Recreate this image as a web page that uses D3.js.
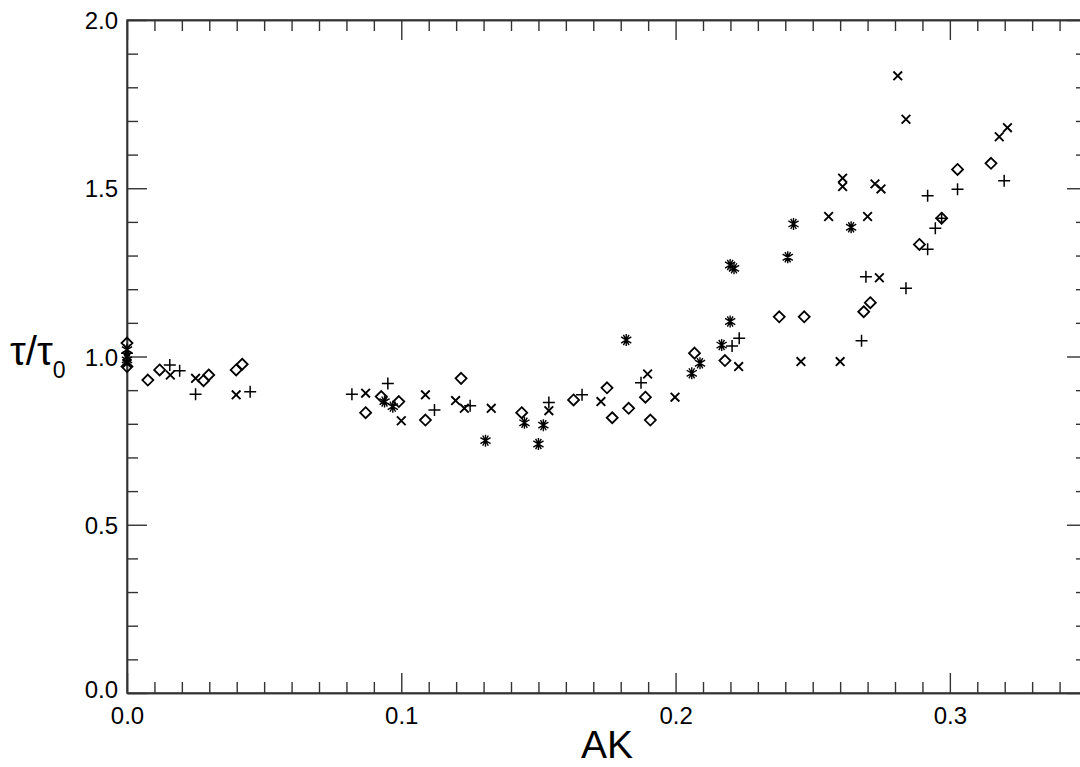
<!DOCTYPE html>
<html>
<head>
<meta charset="utf-8">
<script src="https://cdn.jsdelivr.net/npm/d3@7"></script>
<style>
  body { margin: 0; background: #fff; }
  text { font-family: "Liberation Sans", Arial, sans-serif; fill: #000; }
</style>
</head>
<body>
<div id="chart"></div>
<script>
const width = 1080
const height = 767
const margin = { top: 20, left: 127, right: -7, bottom: 74 }

// data (AK, tau/tau0) for each marker series
const diamondAK  = [0, 0, 0.0076, 0.0119, 0.0279, 0.0298, 0.0398, 0.042, 0.087, 0.0927, 0.0991, 0.1088, 0.1218, 0.1439, 0.1628, 0.175, 0.1769, 0.1829, 0.189, 0.1908, 0.2069, 0.218, 0.2378, 0.2469, 0.2686, 0.271, 0.2889, 0.297, 0.3028, 0.315]
const diamondTau = [1.04, 0.97, 0.930, 0.960, 0.928, 0.945, 0.960, 0.977, 0.833, 0.881, 0.866, 0.811, 0.935, 0.833, 0.871, 0.907, 0.818, 0.846, 0.879, 0.811, 1.010, 0.988, 1.118, 1.118, 1.133, 1.160, 1.333, 1.411, 1.556, 1.574]

const plusAK  = [0, 0.0156, 0.0192, 0.025, 0.0449, 0.082, 0.0951, 0.1121, 0.1251, 0.1538, 0.1659, 0.1874, 0.2206, 0.2232, 0.2678, 0.2694, 0.284, 0.2919, 0.2947, 0.297, 0.2919, 0.3028, 0.3198]
const plusTau = [1.01, 0.975, 0.958, 0.888, 0.895, 0.888, 0.920, 0.841, 0.854, 0.863, 0.886, 0.922, 1.031, 1.054, 1.047, 1.237, 1.203, 1.319, 1.381, 1.411, 1.478, 1.497, 1.522]

const crossAK  = [0, 0, 0.0158, 0.025, 0.0398, 0.087, 0.100, 0.1088, 0.1198, 0.123, 0.1328, 0.1538, 0.1728, 0.1898, 0.1998, 0.223, 0.2457, 0.260, 0.2558, 0.2609, 0.2609, 0.2727, 0.2749, 0.270, 0.2743, 0.281, 0.284, 0.318, 0.321]
const crossTau = [1.00, 0.98, 0.945, 0.935, 0.886, 0.891, 0.809, 0.886, 0.869, 0.846, 0.846, 0.839, 0.866, 0.948, 0.879, 0.970, 0.985, 0.985, 1.416, 1.530, 1.505, 1.513, 1.498, 1.416, 1.234, 1.834, 1.705, 1.653, 1.680]

const starAK  = [0, 0, 0.0939, 0.0969, 0.1307, 0.1449, 0.150, 0.1518, 0.182, 0.2059, 0.2089, 0.2168, 0.2199, 0.2199, 0.2213, 0.2409, 0.243, 0.264]
const starTau = [1.02, 0.99, 0.866, 0.851, 0.750, 0.803, 0.740, 0.796, 1.049, 0.950, 0.980, 1.034, 1.104, 1.272, 1.262, 1.295, 1.394, 1.384]

const xMajor = [0, 0.1, 0.2, 0.3]
const xMajorLabels = ["0.0", "0.1", "0.2", "0.3"]
const yMajor = [0, 0.5, 1.0, 1.5, 2.0]
const yMajorLabels = ["0.0", "0.5", "1.0", "1.5", "2.0"]

const svg = d3.select("#chart").append("svg").attr("width", width).attr("height", height)

const innerW = width - margin.left - margin.right
const innerH = height - margin.top - margin.bottom

const x = d3.scaleLinear().domain([0, 0.35]).range([margin.left, margin.left + innerW])
const y = d3.scaleLinear().domain([0, 2]).range([margin.top + innerH, margin.top])

const xMinor = d3.range(1, 35).map(i => i / 100).filter(v => Math.round(v * 100) % 10 !== 0)
const yMinor = d3.range(1, 20).map(i => i / 10).filter(v => Math.round(v * 10) % 5 !== 0)

const axisColor = "#333"

function styleAxis(g) {
    g.select(".domain").attr("stroke", axisColor).attr("stroke-width", 1.4)
    g.selectAll(".tick line").attr("stroke", axisColor).attr("stroke-width", 1.4)
}

// frame
svg.append("rect")
    .attr("x", x(0)).attr("y", y(2))
    .attr("width", x(0.35) - x(0)).attr("height", y(0) - y(2))
    .attr("fill", "none").attr("stroke", axisColor).attr("stroke-width", 1.4)

// bottom
svg.append("g").attr("transform", `translate(0,${y(0)})`)
    .call(d3.axisBottom(x).tickValues(xMinor).tickSize(-11).tickFormat("").tickSizeOuter(0))
    .call(styleAxis)
const xAxisG = svg.append("g").attr("transform", `translate(0,${y(0)})`)
    .call(d3.axisBottom(x).tickValues(xMajor).tickSize(-20).tickSizeOuter(0).tickPadding(14)
        .tickFormat((d, i) => xMajorLabels[i]))
    .call(styleAxis)
xAxisG.selectAll(".tick text").attr("font-size", 24).attr("font-family", "Liberation Sans, Arial, sans-serif").attr("fill", "#000")

// top
svg.append("g").attr("transform", `translate(0,${y(2)})`)
    .call(d3.axisTop(x).tickValues(xMinor).tickSize(-11).tickFormat("").tickSizeOuter(0))
    .call(styleAxis)
svg.append("g").attr("transform", `translate(0,${y(2)})`)
    .call(d3.axisTop(x).tickValues(xMajor).tickSize(-20).tickFormat("").tickSizeOuter(0))
    .call(styleAxis)

// left
svg.append("g").attr("transform", `translate(${x(0)},0)`)
    .call(d3.axisLeft(y).tickValues(yMinor).tickSize(-11).tickFormat("").tickSizeOuter(0))
    .call(styleAxis)
const yAxisG = svg.append("g").attr("transform", `translate(${x(0)},0)`)
    .call(d3.axisLeft(y).tickValues(yMajor).tickSize(-20).tickSizeOuter(0).tickPadding(9)
        .tickFormat((d, i) => yMajorLabels[i]))
    .call(styleAxis)
yAxisG.selectAll(".tick text").attr("font-size", 24).attr("font-family", "Liberation Sans, Arial, sans-serif").attr("fill", "#000")
    .attr("dy", "0.36em")
yAxisG.selectAll(".tick").filter(d => d === 0).select("text").attr("dy", "0.2em")

// right
svg.append("g").attr("transform", `translate(${x(0.35)},0)`)
    .call(d3.axisRight(y).tickValues(yMinor).tickSize(-11).tickFormat("").tickSizeOuter(0))
    .call(styleAxis)
svg.append("g").attr("transform", `translate(${x(0.35)},0)`)
    .call(d3.axisRight(y).tickValues(yMajor).tickSize(-20).tickFormat("").tickSizeOuter(0))
    .call(styleAxis)

// axis titles
svg.append("text")
    .attr("x", x(0.175)).attr("y", 758)
    .attr("text-anchor", "middle").attr("font-size", 39)
    .text("AK")

const yTitle = svg.append("text").attr("x", 10).attr("y", 365).attr("font-size", 40)
yTitle.append("tspan").text("τ/τ")
yTitle.append("tspan").attr("font-size", 23).attr("dy", 13).text("0")

// marker shapes
const diamondShape = { draw(c, s) { const r = Math.sqrt(s) * 0.6; c.moveTo(0, -r); c.lineTo(r, 0); c.lineTo(0, r); c.lineTo(-r, 0); c.closePath() } }
const plusShape = { draw(c, s) { const r = Math.sqrt(s) * 0.6; c.moveTo(-r, 0); c.lineTo(r, 0); c.moveTo(0, -r); c.lineTo(0, r) } }
const crossShape = { draw(c, s) { const r = Math.sqrt(s) * 0.6; c.moveTo(-r, -r); c.lineTo(r, r); c.moveTo(-r, r); c.lineTo(r, -r) } }
const starShape = { draw(c, s) {
    const r = Math.sqrt(s) * 0.6, d = r * 0.85
    c.moveTo(0, -r); c.lineTo(0, r)
    c.moveTo(-d, -d * 0.6); c.lineTo(d, d * 0.6)
    c.moveTo(-d, d * 0.6); c.lineTo(d, -d * 0.6)
    c.moveTo(-d * 0.55, -d); c.lineTo(d * 0.55, d)
    c.moveTo(-d * 0.55, d); c.lineTo(d * 0.55, -d)
} }

const series = [
    { xs: diamondAK, ys: diamondTau, shape: diamondShape, size: 84, sw: 1.8 },
    { xs: plusAK, ys: plusTau, shape: plusShape, size: 100, sw: 1.5 },
    { xs: crossAK, ys: crossTau, shape: crossShape, size: 52, sw: 1.9 },
    { xs: starAK, ys: starTau, shape: starShape, size: 100, sw: 1.4 }
]

const marks = svg.append("g").attr("id", "marks")
series.forEach(s => {
    const pts = s.xs.map((v, i) => ({ ak: v, tau: s.ys[i] }))
    marks.append("g").selectAll("path").data(pts)
        .enter()
        .append("path")
            .attr("transform", d => `translate(${x(d.ak)},${y(d.tau)})`)
            .attr("d", d3.symbol().type(s.shape).size(s.size))
            .attr("fill", "none")
            .attr("stroke", "#000")
            .attr("stroke-width", s.sw)
})
</script>
</body>
</html>
